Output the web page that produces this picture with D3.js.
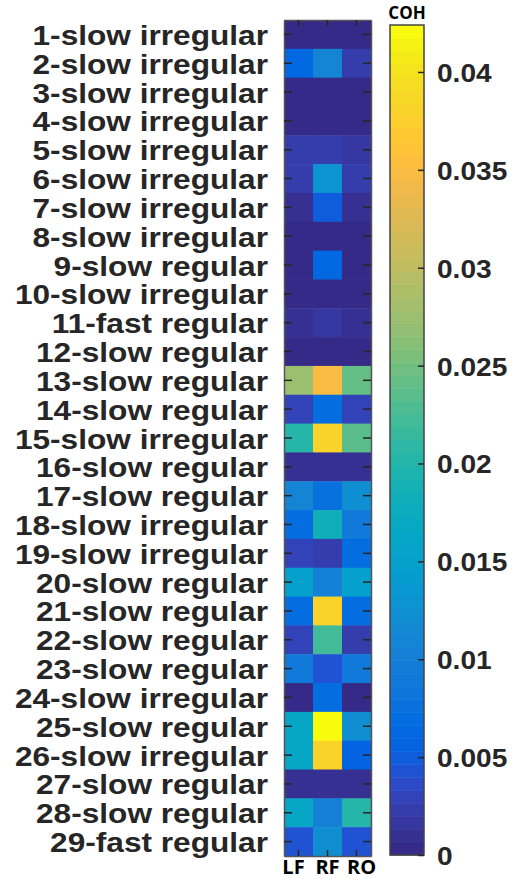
<!DOCTYPE html>
<html><head><meta charset="utf-8">
<script src="https://cdn.jsdelivr.net/npm/d3@7"></script>
<style>body{margin:0;background:#fff}svg{display:block}</style>
</head><body>
<svg id="c" width="514" height="879"></svg>
<script>
const rowLabels = ["1-slow irregular","2-slow irregular","3-slow irregular","4-slow irregular","5-slow irregular","6-slow irregular","7-slow irregular","8-slow irregular","9-slow regular","10-slow irregular","11-fast regular","12-slow regular","13-slow regular","14-slow regular","15-slow irregular","16-slow regular","17-slow regular","18-slow irregular","19-slow irregular","20-slow regular","21-slow regular","22-slow regular","23-slow regular","24-slow irregular","25-slow regular","26-slow irregular","27-slow regular","28-slow regular","29-fast regular"];
const columns = ["LF","RF","RO"];
const valLF = [0.0005,0.0062,0.0005,0.0005,0.0020,0.0020,0.0008,0.0005,0.0006,0.0005,0.0007,0.0005,0.0272,0.0028,0.0200,0.0008,0.0110,0.0068,0.0030,0.0150,0.0068,0.0030,0.0088,0.0006,0.0165,0.0165,0.0008,0.0160,0.0045];
const valRF = [0.0005,0.0110,0.0005,0.0005,0.0020,0.0132,0.0052,0.0005,0.0066,0.0005,0.0018,0.0005,0.0350,0.0072,0.0378,0.0012,0.0076,0.0180,0.0020,0.0102,0.0378,0.0225,0.0040,0.0072,0.0420,0.0378,0.0012,0.0102,0.0120];
const valRO = [0.0005,0.0022,0.0005,0.0005,0.0015,0.0025,0.0010,0.0005,0.0006,0.0005,0.0007,0.0005,0.0240,0.0028,0.0232,0.0008,0.0120,0.0088,0.0068,0.0150,0.0070,0.0022,0.0088,0.0006,0.0120,0.0058,0.0008,0.0200,0.0042];
const cbTicks = [0,0.005,0.01,0.015,0.02,0.025,0.03,0.035,0.04];
const cbTickLabels = ["0","0.005","0.01","0.015","0.02","0.025","0.03","0.035","0.04"];
const vMax = 0.0424;
const parula = [[0.2081,0.1663,0.5292],[0.2116,0.1898,0.5777],[0.2123,0.2138,0.6270],[0.2081,0.2386,0.6771],[0.1959,0.2645,0.7279],[0.1707,0.2919,0.7792],[0.1253,0.3242,0.8303],[0.0591,0.3598,0.8683],[0.0117,0.3875,0.8820],[0.0060,0.4086,0.8828],[0.0165,0.4266,0.8786],[0.0329,0.4430,0.8720],[0.0498,0.4586,0.8641],[0.0629,0.4737,0.8554],[0.0723,0.4887,0.8467],[0.0779,0.5040,0.8384],[0.0793,0.5200,0.8312],[0.0749,0.5375,0.8263],[0.0641,0.5570,0.8240],[0.0488,0.5772,0.8228],[0.0343,0.5966,0.8199],[0.0265,0.6137,0.8135],[0.0239,0.6287,0.8038],[0.0231,0.6418,0.7913],[0.0228,0.6535,0.7768],[0.0267,0.6642,0.7607],[0.0384,0.6743,0.7436],[0.0590,0.6838,0.7254],[0.0843,0.6928,0.7062],[0.1133,0.7015,0.6859],[0.1453,0.7098,0.6646],[0.1801,0.7177,0.6424],[0.2178,0.7250,0.6193],[0.2586,0.7317,0.5954],[0.3022,0.7376,0.5712],[0.3482,0.7424,0.5473],[0.3953,0.7459,0.5244],[0.4420,0.7481,0.5033],[0.4871,0.7491,0.4840],[0.5300,0.7491,0.4661],[0.5709,0.7485,0.4494],[0.6099,0.7473,0.4337],[0.6473,0.7456,0.4188],[0.6834,0.7435,0.4044],[0.7184,0.7411,0.3905],[0.7525,0.7384,0.3768],[0.7858,0.7356,0.3633],[0.8185,0.7327,0.3498],[0.8507,0.7299,0.3360],[0.8824,0.7274,0.3217],[0.9139,0.7258,0.3063],[0.9450,0.7261,0.2886],[0.9739,0.7314,0.2666],[0.9938,0.7455,0.2403],[0.9990,0.7653,0.2164],[0.9955,0.7861,0.1967],[0.9880,0.8066,0.1794],[0.9789,0.8271,0.1633],[0.9697,0.8481,0.1475],[0.9626,0.8705,0.1309],[0.9589,0.8949,0.1132],[0.9598,0.9218,0.0948],[0.9661,0.9514,0.0755],[0.9763,0.9831,0.0538]];
const palette = parula.map(c => d3.rgb(c[0]*255, c[1]*255, c[2]*255).formatHex());
const color = d3.scaleQuantize().domain([0, vMax]).range(palette);

const svg = d3.select("#c");
const hm = {x0: 284, x1: 371, y0: 20, y1: 856};
const x = d3.scaleBand().domain(columns).range([hm.x0, hm.x1]);
const y = d3.scaleBand().domain(rowLabels).range([hm.y0, hm.y1]);
const txt = "#262626";

const cells = [];
rowLabels.forEach((r, i) => {
  cells.push({r, c: "LF", v: valLF[i]});
  cells.push({r, c: "RF", v: valRF[i]});
  cells.push({r, c: "RO", v: valRO[i]});
});
svg.append("g").selectAll("rect").data(cells).join("rect")
  .attr("x", d => x(d.c)).attr("y", d => y(d.r))
  .attr("width", x.bandwidth() + 0.5).attr("height", y.bandwidth() + 0.5)
  .attr("fill", d => color(d.v));

// axes ticks (inward)
const axL = svg.append("g").attr("transform", `translate(${hm.x0},0)`)
  .call(d3.axisLeft(y).tickSizeInner(-8).tickSizeOuter(0).tickFormat(""));
const axR = svg.append("g").attr("transform", `translate(${hm.x1},0)`)
  .call(d3.axisRight(y).tickSizeInner(-8).tickSizeOuter(0).tickFormat(""));
const axT = svg.append("g").attr("transform", `translate(0,${hm.y0})`)
  .call(d3.axisTop(x).tickSizeInner(-6).tickSizeOuter(0).tickFormat(""));
const axB = svg.append("g").attr("transform", `translate(0,${hm.y1})`)
  .call(d3.axisBottom(x).tickSizeInner(-6).tickSizeOuter(0).tickFormat(""));
[axL, axR, axT, axB].forEach(a => {
  a.selectAll("line").attr("stroke", txt).attr("stroke-width", 1.5);
  a.select(".domain").attr("stroke", "#555").attr("stroke-width", 1.5);
});

// row labels
svg.append("g").selectAll("text").data(rowLabels).join("text")
  .attr("transform", d => `translate(268,${y(d) + y.bandwidth()/2 + 10.5}) scale(1.13,1)`)
  .attr("text-anchor", "end")
  .attr("font-family", "Liberation Sans, Arial, sans-serif")
  .attr("font-weight", "bold").attr("font-size", 28)
  .attr("fill", txt).text(d => d);

// column labels
svg.append("g").selectAll("text").data(columns).join("text")
  .attr("x", (d, i) => x(d) + x.bandwidth()/2 + (i - 1) * 5).attr("y", 874)
  .attr("text-anchor", "middle")
  .attr("font-family", "Open Sans, sans-serif")
  .attr("font-weight", "bold").attr("font-size", 20)
  .attr("fill", "#000").text(d => d);

// colorbar
const cb = {x0: 390, x1: 424, y0: 25, y1: 855};
const cy = d3.scaleLinear().domain([0, vMax]).range([cb.y1, cb.y0]);
const steps = palette.map((p, i) => ({p, a: i*vMax/64, b: (i+1)*vMax/64}));
svg.append("g").selectAll("rect").data(steps).join("rect")
  .attr("x", cb.x0).attr("width", cb.x1 - cb.x0)
  .attr("y", d => cy(d.b)).attr("height", d => cy(d.a) - cy(d.b) + 0.5)
  .attr("fill", d => d.p);
svg.append("rect").attr("x", cb.x0).attr("y", cb.y0)
  .attr("width", cb.x1 - cb.x0).attr("height", cb.y1 - cb.y0)
  .attr("fill", "none").attr("stroke", "#444").attr("stroke-width", 1.5);
const cbAx = svg.append("g").attr("transform", `translate(${cb.x1},0)`)
  .call(d3.axisRight(cy).tickValues(cbTicks).tickSizeInner(-6).tickSizeOuter(0).tickFormat(""));
cbAx.select(".domain").remove();
cbAx.selectAll("line").attr("stroke", txt).attr("stroke-width", 1.5);
svg.append("g").selectAll("text").data(cbTicks).join("text")
  .attr("transform", (d, i) => `translate(437,${cy(d) + 10}) scale(1.08,1)`)
  .attr("font-family", "Liberation Sans, Arial, sans-serif")
  .attr("font-weight", "bold").attr("font-size", 26)
  .attr("fill", txt).text((d, i) => cbTickLabels[i]);
svg.append("text").attr("x", 407).attr("y", 19).attr("text-anchor", "middle")
  .attr("font-family", "Open Sans, sans-serif")
  .attr("font-weight", "bold").attr("font-size", 17)
  .attr("fill", "#000").text("COH");
</script>
</body></html>
